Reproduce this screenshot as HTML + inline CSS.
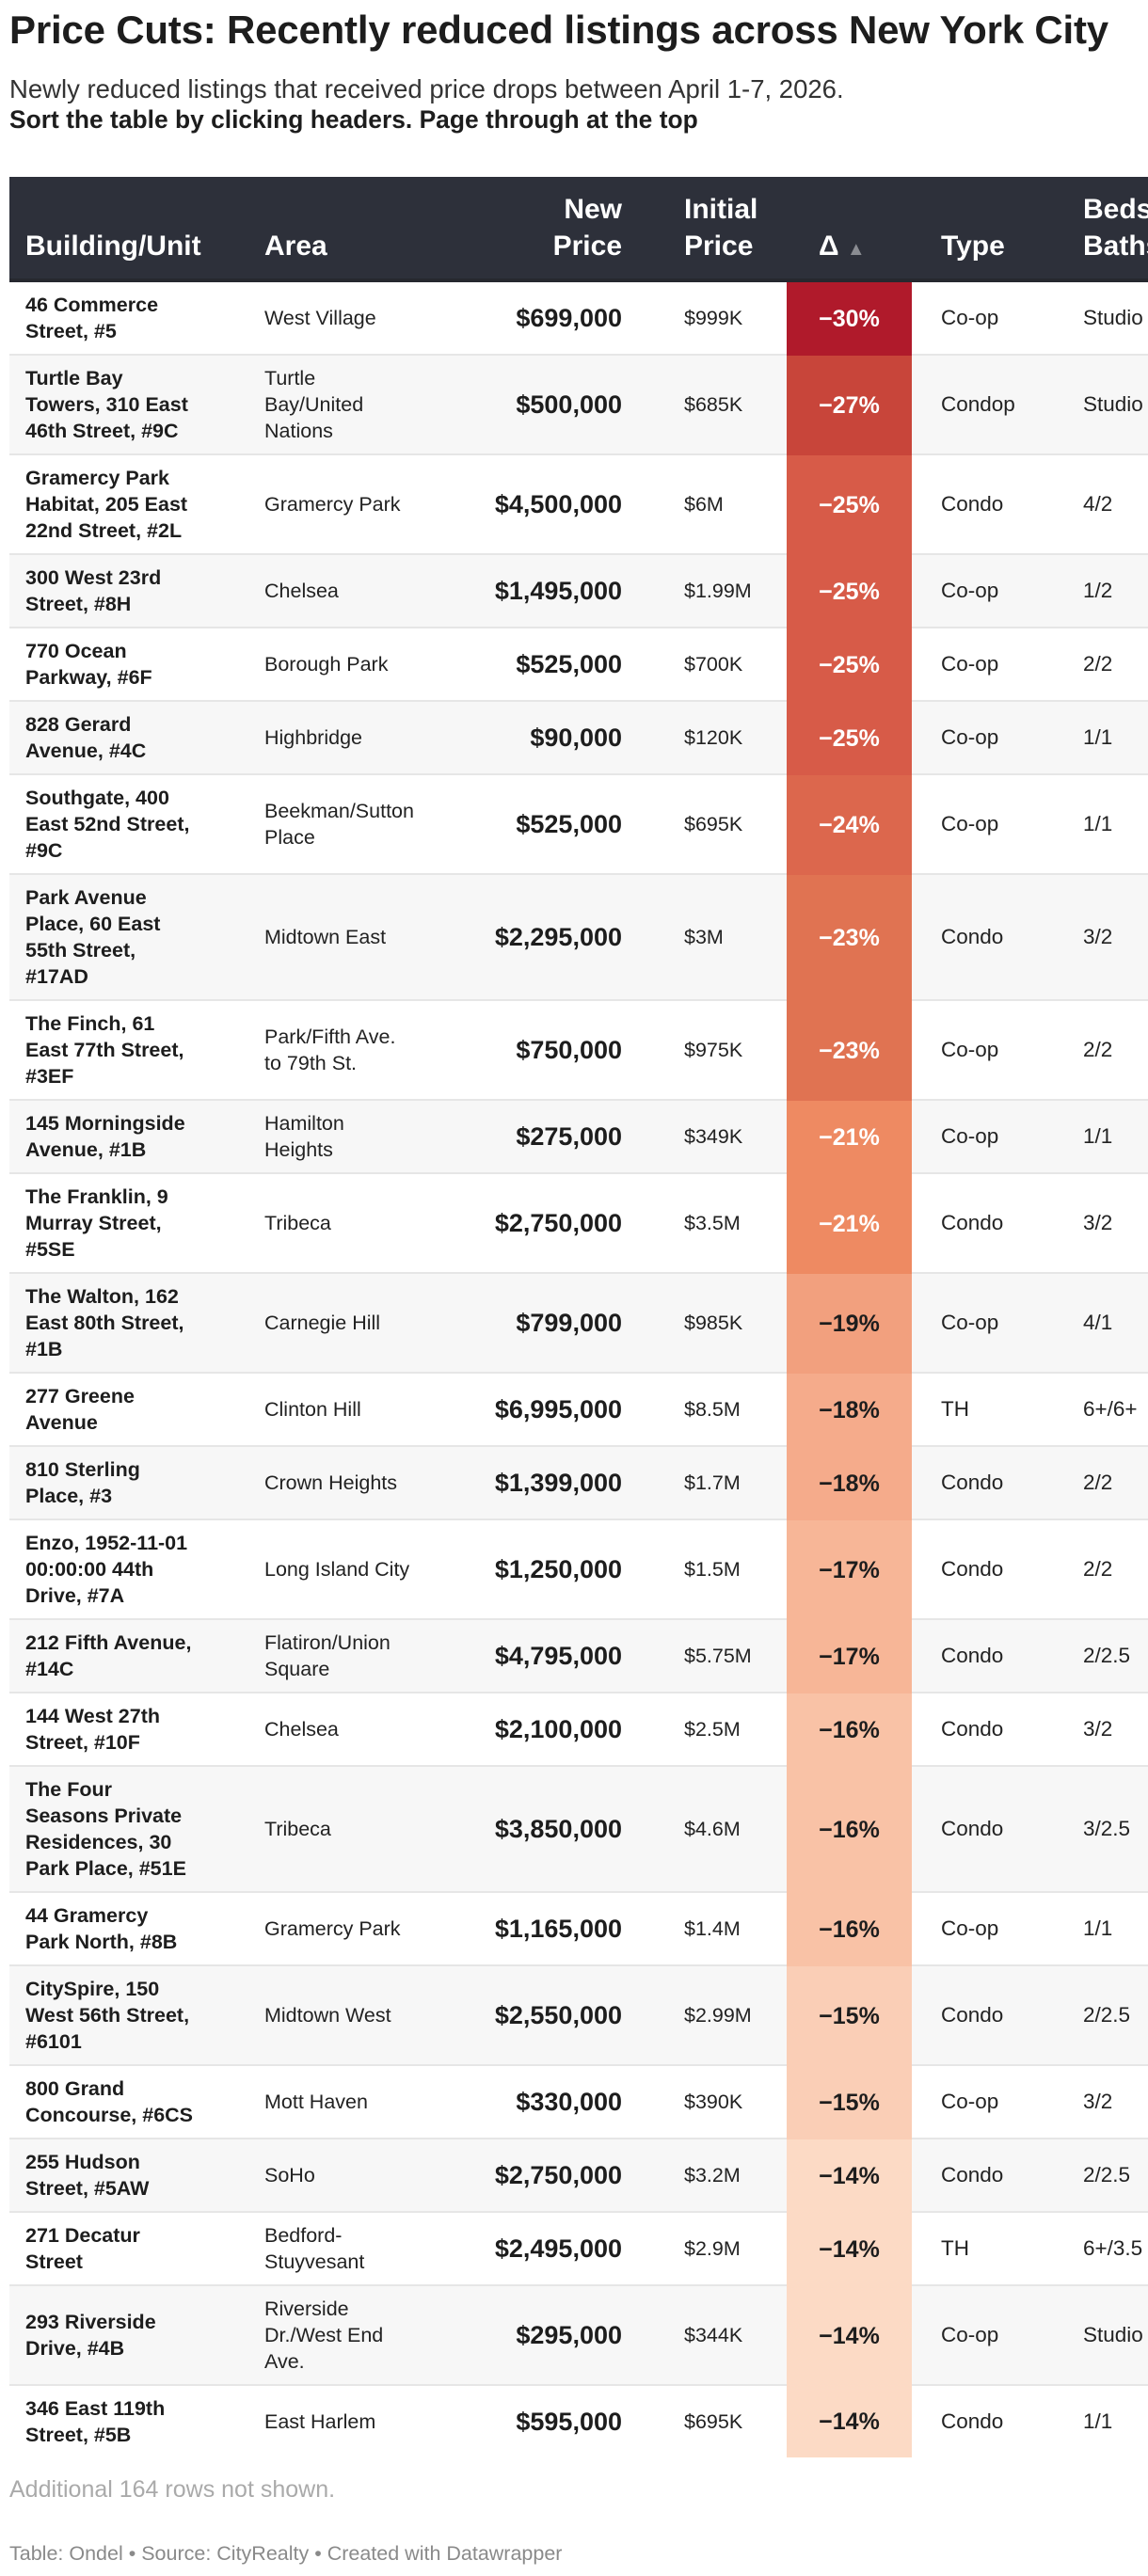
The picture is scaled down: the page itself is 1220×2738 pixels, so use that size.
<!DOCTYPE html>
<html><head><meta charset="utf-8">
<style>
html,body{margin:0;padding:0;background:#fff;}
body{width:1220px;height:2738px;position:relative;overflow:hidden;font-family:"Liberation Sans",Arial,sans-serif;color:#1d1d1d;}
.abs{position:absolute;}
#title{left:10px;top:8px;font-size:42px;font-weight:bold;letter-spacing:-0.2px;white-space:nowrap;}
#sub1{left:10px;top:79px;font-size:27.5px;color:#333;white-space:nowrap;}
#sub2{left:10px;top:112px;font-size:26.4px;font-weight:bold;white-space:nowrap;}
#header{left:10px;top:188px;width:1210px;height:108px;background:#2d303a;border-bottom:4px solid #26282f;overflow:hidden;}
.h{position:absolute;color:#fff;font-weight:bold;font-size:30px;line-height:39px;white-space:nowrap;}
#table{left:10px;top:300px;width:1210px;height:2320px;overflow:hidden;}
.row{position:absolute;left:0;width:1210px;}
.cell{position:absolute;top:0;display:flex;align-items:center;white-space:nowrap;}
.bld{left:17px;font-weight:bold;font-size:21.5px;line-height:28px;}
.area{left:271px;font-size:21.5px;line-height:28px;color:#222;}
.np{left:380px;width:271px;justify-content:flex-end;font-weight:bold;font-size:27px;}
.ip{left:717px;font-size:21.5px;color:#222;}
.dl{left:826px;width:133px;justify-content:center;font-weight:bold;font-size:25px;}
.tp{left:990px;font-size:22.5px;color:#222;}
.bd{left:1141px;font-size:22.5px;color:#222;}
#more{left:10px;top:2632px;font-size:25px;color:#aaa;}
#credit{left:10px;top:2702px;font-size:21.5px;color:#8a8a8a;}
</style></head>
<body>
<div id="title" class="abs">Price Cuts: Recently reduced listings across New York City</div>
<div id="sub1" class="abs">Newly reduced listings that received price drops between April 1-7, 2026.</div>
<div id="sub2" class="abs">Sort the table by clicking headers. Page through at the top</div>

<div id="header" class="abs">
  <div class="h" style="left:17px;top:54px">Building/Unit</div>
  <div class="h" style="left:271px;top:54px">Area</div>
  <div class="h" style="left:520px;width:131px;top:15px;text-align:right">New<br>Price</div>
  <div class="h" style="left:717px;top:15px">Initial<br>Price</div>
  <div class="h" style="left:860px;top:54px">Δ <span style="color:#8a8c92;font-size:20px">▲</span></div>
  <div class="h" style="left:990px;top:54px">Type</div>
  <div class="h" style="left:1141px;top:15px">Beds/<br>Baths</div>
</div>

<div id="table" class="abs"></div>

<div id="more" class="abs">Additional 164 rows not shown.</div>
<div id="credit" class="abs">Table: Ondel • Source: CityRealty • Created with Datawrapper</div>

<script>
const buildings = [
 ["46 Commerce","Street, #5"],
 ["Turtle Bay","Towers, 310 East","46th Street, #9C"],
 ["Gramercy Park","Habitat, 205 East","22nd Street, #2L"],
 ["300 West 23rd","Street, #8H"],
 ["770 Ocean","Parkway, #6F"],
 ["828 Gerard","Avenue, #4C"],
 ["Southgate, 400","East 52nd Street,","#9C"],
 ["Park Avenue","Place, 60 East","55th Street,","#17AD"],
 ["The Finch, 61","East 77th Street,","#3EF"],
 ["145 Morningside","Avenue, #1B"],
 ["The Franklin, 9","Murray Street,","#5SE"],
 ["The Walton, 162","East 80th Street,","#1B"],
 ["277 Greene","Avenue"],
 ["810 Sterling","Place, #3"],
 ["Enzo, 1952-11-01","00:00:00 44th","Drive, #7A"],
 ["212 Fifth Avenue,","#14C"],
 ["144 West 27th","Street, #10F"],
 ["The Four","Seasons Private","Residences, 30","Park Place, #51E"],
 ["44 Gramercy","Park North, #8B"],
 ["CitySpire, 150","West 56th Street,","#6101"],
 ["800 Grand","Concourse, #6CS"],
 ["255 Hudson","Street, #5AW"],
 ["271 Decatur","Street"],
 ["293 Riverside","Drive, #4B"],
 ["346 East 119th","Street, #5B"]
];
const areas = [
 ["West Village"],["Turtle","Bay/United","Nations"],["Gramercy Park"],["Chelsea"],["Borough Park"],["Highbridge"],
 ["Beekman/Sutton","Place"],["Midtown East"],["Park/Fifth Ave.","to 79th St."],["Hamilton","Heights"],["Tribeca"],
 ["Carnegie Hill"],["Clinton Hill"],["Crown Heights"],["Long Island City"],["Flatiron/Union","Square"],["Chelsea"],
 ["Tribeca"],["Gramercy Park"],["Midtown West"],["Mott Haven"],["SoHo"],["Bedford-","Stuyvesant"],
 ["Riverside","Dr./West End","Ave."],["East Harlem"]
];
const newPrices = ["$699,000","$500,000","$4,500,000","$1,495,000","$525,000","$90,000","$525,000","$2,295,000","$750,000","$275,000","$2,750,000","$799,000","$6,995,000","$1,399,000","$1,250,000","$4,795,000","$2,100,000","$3,850,000","$1,165,000","$2,550,000","$330,000","$2,750,000","$2,495,000","$295,000","$595,000"];
const initialPrices = ["$999K","$685K","$6M","$1.99M","$700K","$120K","$695K","$3M","$975K","$349K","$3.5M","$985K","$8.5M","$1.7M","$1.5M","$5.75M","$2.5M","$4.6M","$1.4M","$2.99M","$390K","$3.2M","$2.9M","$344K","$695K"];
const deltas = [-30,-27,-25,-25,-25,-25,-24,-23,-23,-21,-21,-19,-18,-18,-17,-17,-16,-16,-16,-15,-15,-14,-14,-14,-14];
const types = ["Co-op","Condop","Condo","Co-op","Co-op","Co-op","Co-op","Condo","Co-op","Co-op","Condo","Co-op","TH","Condo","Condo","Condo","Condo","Condo","Co-op","Condo","Co-op","Condo","TH","Co-op","Condo"];
const bedsBaths = ["Studio","Studio","4/2","1/2","2/2","1/1","1/1","3/2","2/2","1/1","3/2","4/1","6+/6+","2/2","2/2","2/2.5","3/2","3/2.5","1/1","2/2.5","3/2","2/2.5","6+/3.5","Studio","1/1"];

const stops = [[-30,[176,26,43]],[-27,[200,69,58]],[-25,[215,91,72]],[-23,[224,115,82]],[-21,[238,138,98]],[-19,[242,160,126]],[-17,[247,182,151]],[-14,[252,218,197]]];
function colorFor(v){
  if(v<=stops[0][0]) return 'rgb('+stops[0][1].join(',')+')';
  for(let i=1;i<stops.length;i++){
    if(v<=stops[i][0]){
      const a=stops[i-1],b=stops[i],t=(v-a[0])/(b[0]-a[0]);
      return 'rgb('+a[1].map((c,k)=>Math.round(c+(b[1][k]-c)*t)).join(',')+')';
    }
  }
  return 'rgb('+stops[stops.length-1][1].join(',')+')';
}
const tbl=document.getElementById('table');
let y=0;
for(let i=0;i<buildings.length;i++){
  const lines=Math.max(buildings[i].length,areas[i].length,1);
  const h=lines*28+20;
  const last=i===buildings.length-1;
  const row=document.createElement('div');
  
  
  row.className='row';
  row.style.top=y+'px';
  row.style.height=h+'px';
  row.style.background=(i%2===1)?'#f7f7f7':'#ffffff';
  if(!last) row.style.borderBottom='2px solid #e6e6e6';
  const mk=(cls,html,extra)=>{
    const c=document.createElement('div');
    c.className='cell '+cls;
    c.style.height=h+'px';
    c.innerHTML=html;
    if(extra) Object.assign(c.style,extra);
    return c;
  };
  let c;
  c=mk('bld',buildings[i].join('<br>'));
  
  
  row.appendChild(c);
  c=mk('area',areas[i].join('<br>'));
  
  
  row.appendChild(c);
  c=mk('np',newPrices[i]);
  
  
  row.appendChild(c);
  c=mk('ip',initialPrices[i]);
  
  
  row.appendChild(c);
  c=mk('dl','\u2212'+Math.abs(deltas[i])+'%',{background:colorFor(deltas[i]),color:deltas[i]<=-20?'#ffffff':'#1d1d1d',height:(h+(last?0:2))+'px'});
  
  
  row.appendChild(c);
  c=mk('tp',types[i]);
  
  
  row.appendChild(c);
  c=mk('bd',bedsBaths[i]);
  
  
  row.appendChild(c);
  tbl.appendChild(row);
  y+=h+(last?0:2);
}
</script>
</body></html>
